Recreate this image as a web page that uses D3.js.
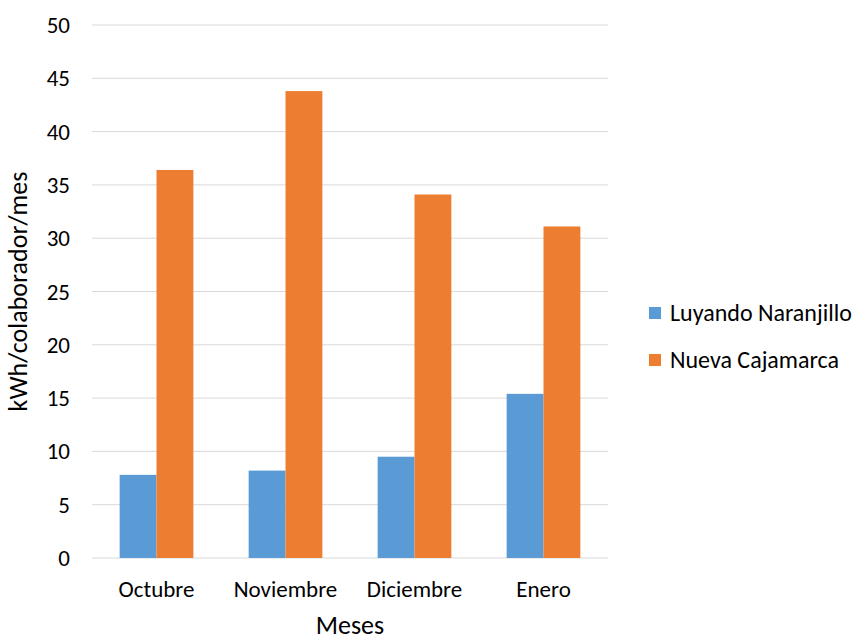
<!DOCTYPE html>
<html>
<head>
<meta charset="utf-8">
<script src="https://cdn.jsdelivr.net/npm/d3@7"></script>
<style>
  body { margin: 0; background: #fff; }
  text { font-family: Carlito, Calibri, "Open Sans", sans-serif; fill: #000; }
</style>
</head>
<body>
<div id="chart"></div>
<script>
// data
var months = ['Octubre', 'Noviembre', 'Diciembre', 'Enero']
var seriesNames = ['Luyando Naranjillo', 'Nueva Cajamarca']
var luyando = [7.8, 8.2, 9.5, 15.4]
var nuevaCajamarca = [36.4, 43.8, 34.1, 31.1]
var yTicks = [0, 5, 10, 15, 20, 25, 30, 35, 40, 45, 50]
var colors = ['#5b9bd5', '#ed7d31']

var width = 853
var height = 637
var margin = { left: 92, right: 245, top: 25, bottom: 79 }

var svg = d3.select('#chart').append('svg')
  .attr('width', width)
  .attr('height', height)

var x = d3.scaleBand()
  .domain(months)
  .range([margin.left, width - margin.right])

var y = d3.scaleLinear()
  .domain([0, 50])
  .range([height - margin.bottom, margin.top])

// gridlines
svg.append('g')
  .selectAll('line')
  .data(yTicks)
  .join('line')
  .attr('x1', margin.left)
  .attr('x2', width - margin.right)
  .attr('y1', d => y(d))
  .attr('y2', d => y(d))
  .attr('stroke', '#d9d9d9')
  .attr('stroke-width', 1)

// y tick labels
svg.append('g')
  .selectAll('text')
  .data(yTicks)
  .join('text')
  .attr('x', 70)
  .attr('y', d => y(d))
  .attr('dy', '0.35em')
  .attr('text-anchor', 'end')
  .attr('font-size', 23)
  .text(d => d)

// bars, Excel-like gap width of 150%
var barW = x.bandwidth() / 3.5
var series = [luyando, nuevaCajamarca]
series.forEach(function (vals, si) {
  svg.append('g')
    .selectAll('rect')
    .data(vals)
    .join('rect')
    .attr('x', (d, i) => x(months[i]) + x.bandwidth() / 2 - barW + si * barW)
    .attr('y', d => y(d))
    .attr('width', barW)
    .attr('height', d => y(0) - y(d))
    .attr('fill', colors[si])
})

// x labels
svg.append('g')
  .selectAll('text')
  .data(months)
  .join('text')
  .attr('x', d => x(d) + x.bandwidth() / 2)
  .attr('y', 597)
  .attr('text-anchor', 'middle')
  .attr('font-size', 23)
  .text(d => d)

// axis titles
svg.append('text')
  .attr('x', (margin.left + width - margin.right) / 2)
  .attr('y', 634)
  .attr('text-anchor', 'middle')
  .attr('font-size', 26)
  .text('Meses')

svg.append('text')
  .attr('transform', 'translate(27,' + ((y(0) + y(50)) / 2) + ') rotate(-90)')
  .attr('text-anchor', 'middle')
  .attr('font-size', 26)
  .text('kWh/colaborador/mes')

// legend
var legend = svg.append('g')
  .selectAll('g')
  .data(seriesNames)
  .join('g')
  .attr('transform', (d, i) => 'translate(649,' + (307 + i * 47) + ')')

legend.append('rect')
  .attr('width', 12)
  .attr('height', 12)
  .attr('fill', (d, i) => colors[i])

legend.append('text')
  .attr('x', 21)
  .attr('y', 6)
  .attr('dy', '0.35em')
  .attr('font-size', 24)
  .text(d => d)
</script>
</body>
</html>
